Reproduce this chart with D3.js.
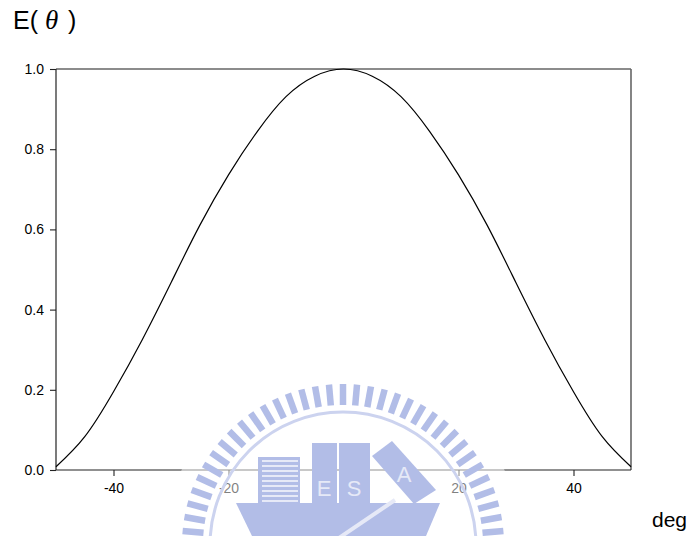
<!DOCTYPE html>
<html>
<head>
<meta charset="utf-8">
<script src="https://cdn.jsdelivr.net/npm/d3@7/dist/d3.min.js"></script>
<style>
  html, body { margin: 0; padding: 0; background: #fff; }
  svg { display: block; }
</style>
</head>
<body>
<svg id="chart" width="693" height="536"></svg>
<script>
// Angle (deg) and normalised field strength E(θ)
const angles = [-50, -45, -40, -35, -30, -25, -20, -15, -10, -5, 0, 5, 10, 15, 20, 25, 30, 35, 40, 45, 50];
const eValues = [0.008, 0.083, 0.195, 0.325, 0.467, 0.61, 0.736, 0.844, 0.931, 0.982, 1.0, 0.982, 0.931, 0.844, 0.736, 0.61, 0.467, 0.325, 0.195, 0.083, 0.008];
const xTicks = [-40, -20, 0, 20, 40];
const yTicks = [0, 0.2, 0.4, 0.6, 0.8, 1.0];

const svg = d3.select("#chart");
const plotLeft = 56, plotRight = 631, plotTop = 69, plotBottom = 470;

const x = d3.scaleLinear().domain([-50, 50]).range([plotLeft, plotRight]);
const y = d3.scaleLinear().domain([0, 1]).range([plotBottom, plotTop]);

const font = "'Liberation Sans', Arial, sans-serif";

// frame: top and right sides
svg.append("line").attr("x1", plotLeft).attr("x2", plotRight).attr("y1", plotTop).attr("y2", plotTop)
  .attr("stroke", "#666").attr("stroke-width", 1.6);
svg.append("line").attr("x1", plotRight).attr("x2", plotRight).attr("y1", plotTop).attr("y2", plotBottom)
  .attr("stroke", "#666").attr("stroke-width", 1.6);

// axes
const yAxis = svg.append("g").attr("transform", `translate(${plotLeft},0)`)
  .call(d3.axisLeft(y).tickValues(yTicks).tickFormat(d3.format(".1f")).tickSize(6).tickPadding(6));
const xAxis = svg.append("g").attr("transform", `translate(0,${plotBottom})`)
  .call(d3.axisBottom(x).tickValues(xTicks).tickFormat(d => String(d)).tickSize(6).tickPadding(7));
[yAxis, xAxis].forEach(g => {
  g.select(".domain").attr("stroke", "#222").attr("stroke-width", 1.2);
  g.selectAll(".tick line").attr("stroke", "#222").attr("stroke-width", 1.1);
  g.selectAll(".tick text").attr("fill", "#000").style("font-family", font).style("font-size", "14px");
});
xAxis.select(".domain").attr("d", `M${plotLeft},0H${plotRight}`);
yAxis.select(".domain").attr("d", `M0,${plotTop}V${plotBottom}`);

// curve
const pts = angles.map((a, i) => [a, eValues[i]]);
svg.append("path").datum(pts)
  .attr("fill", "none").attr("stroke", "#000").attr("stroke-width", 1.2)
  .attr("d", d3.line().x(d => x(d[0])).y(d => y(d[1])).curve(d3.curveNatural));

// titles
const title = svg.append("text").attr("y", 29).style("font-family", font).style("font-size", "25px").attr("fill", "#000");
title.append("tspan").attr("x", 13).text("E(");
title.append("tspan").attr("x", 45).style("font-family", "'Liberation Serif', 'Times New Roman', serif")
  .style("font-style", "italic").style("font-size", "27px").text("θ");
title.append("tspan").attr("x", 68).text(")");

svg.append("text").attr("x", 652).attr("y", 527).style("font-family", font).style("font-size", "21px")
  .attr("fill", "#000").text("deg");

// emblem overlay near the bottom centre
const cx = 343, cy = 545;
const wm = svg.append("g");
wm.append("circle").attr("cx", cx).attr("cy", cy).attr("r", 178).attr("fill", "#fff").attr("opacity", 0.5);
const blue = "#b2bde7";
const pale = "#e6e9f7";
d3.range(-90, 90.1, 5).forEach(a => {
  const r1 = 140, r2 = 161, t = a * Math.PI / 180;
  wm.append("line")
    .attr("x1", cx + r1 * Math.sin(t)).attr("y1", cy - r1 * Math.cos(t))
    .attr("x2", cx + r2 * Math.sin(t)).attr("y2", cy - r2 * Math.cos(t))
    .attr("stroke", blue).attr("stroke-width", 6.5);
});
wm.append("circle").attr("cx", cx).attr("cy", cy).attr("r", 133).attr("fill", "none")
  .attr("stroke", "#ccd3ef").attr("stroke-width", 3);
wm.append("polygon").attr("points", "236,503 440,503 426,536 252,536").attr("fill", blue);
wm.append("rect").attr("x", 258).attr("y", 457).attr("width", 42).attr("height", 48).attr("fill", blue);
d3.range(461, 503, 5).forEach(yy => {
  wm.append("line").attr("x1", 262).attr("x2", 298).attr("y1", yy).attr("y2", yy)
    .attr("stroke", pale).attr("stroke-width", 2);
});
wm.append("rect").attr("x", 312).attr("y", 443).attr("width", 25).attr("height", 62).attr("fill", blue);
wm.append("rect").attr("x", 339).attr("y", 443).attr("width", 31).attr("height", 62).attr("fill", blue);
wm.append("polygon").attr("points", "372,456 392,441 436,490 414,504").attr("fill", blue);
wm.append("line").attr("x1", 395).attr("y1", 500).attr("x2", 336).attr("y2", 540)
  .attr("stroke", pale).attr("stroke-width", 4);
[["E", 324, 496], ["S", 354, 496], ["A", 404, 482]].forEach(([t, tx, ty]) => {
  wm.append("text").attr("x", tx).attr("y", ty).attr("text-anchor", "middle")
    .style("font-family", font).style("font-size", "22px").attr("fill", pale).text(t);
});
</script>
</body>
</html>
